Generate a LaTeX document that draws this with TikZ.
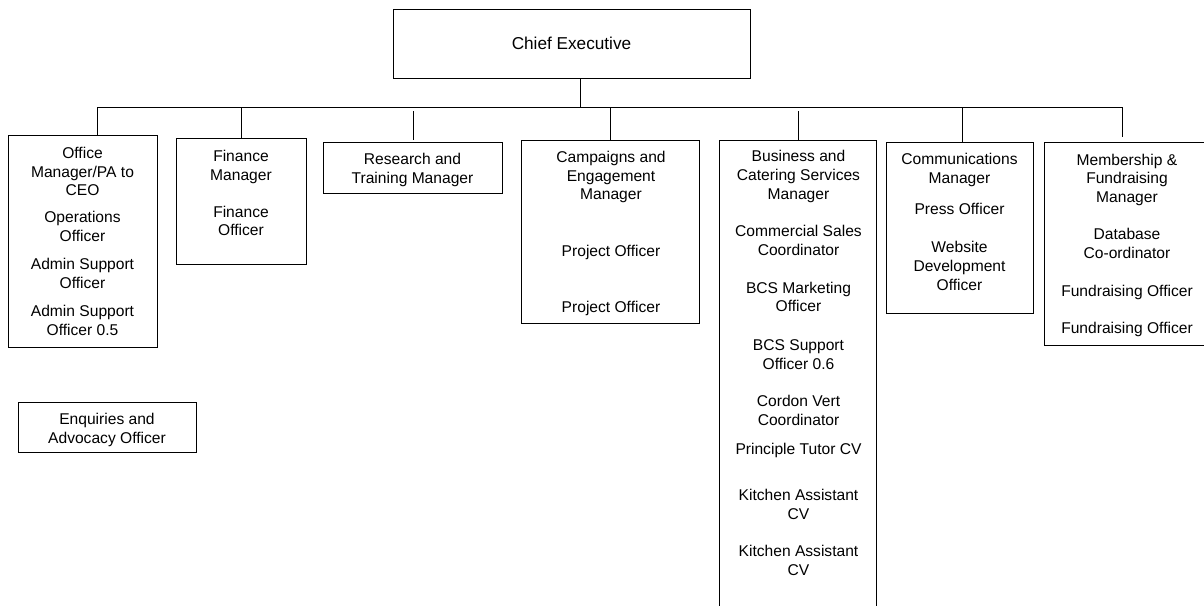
\documentclass[tikz,border=0pt]{standalone}
\usepackage{fontspec}
\setmainfont{Liberation Sans}
\begin{document}
\begin{tikzpicture}[x=1pt,y=-1pt,
  box/.style={draw, line width=1pt, rectangle, inner sep=0pt, outer sep=0pt, anchor=north west},
  lbl/.style={align=center, anchor=base, inner sep=0pt, font=\fontsize{15.6}{18.7}\selectfont},
  conn/.style={line width=1pt}]
\useasboundingbox (0,0) rectangle (1204,605);
\clip (0,0) rectangle (1204,605);
% boxes
\node[box, minimum width=357pt, minimum height=69pt] (chief) at (393,9) {};
\node[box, minimum width=149pt, minimum height=212pt] (office) at (8,135) {};
\node[box, minimum width=130pt, minimum height=126pt] (finance) at (176,138) {};
\node[box, minimum width=179pt, minimum height=51pt] (research) at (323,142) {};
\node[box, minimum width=178pt, minimum height=183pt] (campaigns) at (521,140) {};
\node[box, minimum width=157pt, minimum height=480pt] (business) at (719,140) {};
\node[box, minimum width=147pt, minimum height=171pt] (comms) at (886,142) {};
\node[box, minimum width=166pt, minimum height=203pt] (member) at (1044,142) {};
\node[box, minimum width=178pt, minimum height=50pt] (enquiries) at (18,402) {};
% texts (anchor=base is the baseline of the last line)
\node[lbl, font=\fontsize{17.2}{20}\selectfont] (tchief) at (571.5,49.6) {Chief Executive};
\node[lbl] (toff1) at (82.5,195.8) {Office\\Manager/PA to\\CEO};
\node[lbl] (toff2) at (82.5,241.5) {Operations\\Officer};
\node[lbl] (toff3) at (82.5,288.5) {Admin Support\\Officer};
\node[lbl] (toff4) at (82.5,335.1) {Admin Support\\Officer 0.5};
\node[lbl] (tfin1) at (241,180.1) {Finance\\Manager};
\node[lbl] (tfin2) at (241,235.8) {Finance\\Officer};
\node[lbl] (tres1) at (412.5,183.5) {Research and\\Training Manager};
\node[lbl] (tcam1) at (611,199.8) {Campaigns and\\Engagement\\Manager};
\node[lbl] (tcam2) at (611,256.5) {Project Officer};
\node[lbl] (tcam3) at (611,312.5) {Project Officer};
\node[lbl] (tbus1) at (798.5,199.1) {Business and\\Catering Services\\Manager};
\node[lbl] (tbus2) at (798.5,255.1) {Commercial Sales\\Coordinator};
\node[lbl] (tbus3) at (798.5,311.8) {BCS Marketing\\Officer};
\node[lbl] (tbus4) at (798.5,369.1) {BCS Support\\Officer 0.6};
\node[lbl] (tbus5) at (798.5,425.1) {Cordon Vert\\Coordinator};
\node[lbl] (tbus6) at (798.5,454.1) {Principle Tutor CV};
\node[lbl] (tbus7) at (798.5,519.1) {Kitchen Assistant\\CV};
\node[lbl] (tbus8) at (798.5,575.1) {Kitchen Assistant\\CV};
\node[lbl] (tcom1) at (959.5,183.5) {Communications\\Manager};
\node[lbl] (tcom2) at (959.5,214.1) {Press Officer};
\node[lbl] (tcom3) at (959.5,290.1) {Website\\Development\\Officer};
\node[lbl] (tmem1) at (1127,202.5) {Membership \&\\Fundraising\\Manager};
\node[lbl] (tmem2) at (1127,258.5) {Database\\Co-ordinator};
\node[lbl] (tmem3) at (1127,296.5) {Fundraising Officer};
\node[lbl] (tmem4) at (1127,333.1) {Fundraising Officer};
\node[lbl] (tenq1) at (107,443.1) {Enquiries and\\Advocacy Officer};
% connectors
\coordinate (c0) at (580,107.3);
\coordinate (busL) at (97,107.3);
\coordinate (busR) at (1122,107.3);
\draw[conn] (c0 |- chief.south) -- (c0);
\draw[conn] (busL) -- (busR);
\coordinate (d1) at (97,107.3);
\draw[conn] (d1) -- (d1 |- office.north);
\coordinate (d2) at (241,107.3);
\draw[conn] (d2) -- (d2 |- finance.north);
\coordinate (d3a) at (413,111);
\coordinate (d3b) at (413,140);
\draw[conn] (d3a) -- (d3b);
\coordinate (d4) at (610,107.3);
\draw[conn] (d4) -- (d4 |- campaigns.north);
\coordinate (d5a) at (798,111);
\draw[conn] (d5a) -- (d5a |- business.north);
\coordinate (d6) at (962,107.3);
\draw[conn] (d6) -- (d6 |- comms.north);
\coordinate (d7a) at (1122,107.3);
\coordinate (d7b) at (1122,137);
\draw[conn] (d7a) -- (d7b);
\end{tikzpicture}
\end{document}
